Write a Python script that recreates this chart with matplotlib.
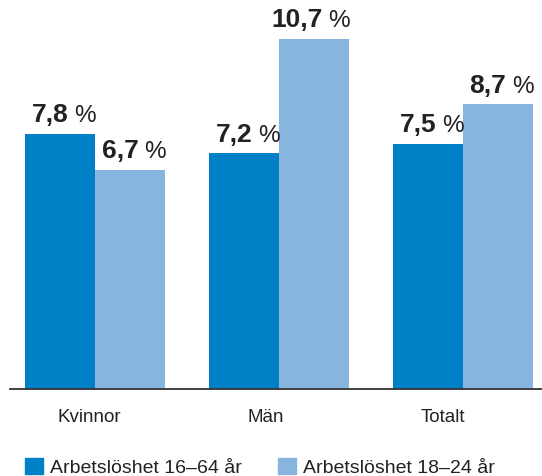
import matplotlib.pyplot as plt
import numpy as np
from matplotlib.patches import Patch

categories = ['Kvinnor', 'Män', 'Totalt']
series_names = ['Arbetslöshet 16–64 år', 'Arbetslöshet 18–24 år']
values_1664 = [7.8, 7.2, 7.5]
values_1824 = [6.7, 10.7, 8.7]
colors = ['#0080C6', '#88B4E0']

plt.rcParams['font.family'] = ['Liberation Sans', 'DejaVu Sans']

W, H = 542, 477
fig = plt.figure(figsize=(W / 100, H / 100), dpi=100)
# axes: x from 10 px to 542 px, baseline at y=390 px
ax = fig.add_axes([10 / W, (H - 390) / H, 532 / W, 390 / H])

x = np.arange(len(categories))
bw = 0.38
ax.bar(x - bw / 2, values_1664, bw, color=colors[0])
ax.bar(x + bw / 2, values_1824, bw, color=colors[1])

ax.set_xlim(-0.462, 2.429)
ax.set_ylim(0, 10.7 * 390 / 350)

def fmt(v):
    return f'{v:.1f}'.replace('.', ',')

for xs, vals in [(x - bw / 2, values_1664), (x + bw / 2, values_1824)]:
    for xi, v in zip(xs, vals):
        ax.annotate(fmt(v), (xi, v), xytext=(6, 5.5), textcoords='offset points',
                    ha='right', va='bottom', fontsize=19, fontweight='bold',
                    color='#222222')
        ax.annotate('%', (xi, v), xytext=(10, 5.5), textcoords='offset points',
                    ha='left', va='bottom', fontsize=17.5, color='#222222')

for side in ['top', 'right', 'left']:
    ax.spines[side].set_visible(False)
ax.spines['bottom'].set_color('#333333')
ax.spines['bottom'].set_linewidth(1.3)
ax.set_yticks([])
ax.set_xticks(x + np.array([-0.03, -0.07, -0.11]))
ax.set_xticklabels(categories, fontsize=13.5, color='#222222')
ax.tick_params(axis='x', length=0, pad=14)

handles = [Patch(color=c, label=n) for c, n in zip(colors, series_names)]
fig.legend(handles=handles, loc='center left', bbox_to_anchor=(25 / W, 1 - 468 / H),
           ncol=2, frameon=False, fontsize=14, borderaxespad=0, borderpad=0,
           handlelength=0.93, handleheight=0.93, handletextpad=0.36,
           columnspacing=1.85, labelcolor='#222222')

fig.savefig('out.png', dpi=100)
